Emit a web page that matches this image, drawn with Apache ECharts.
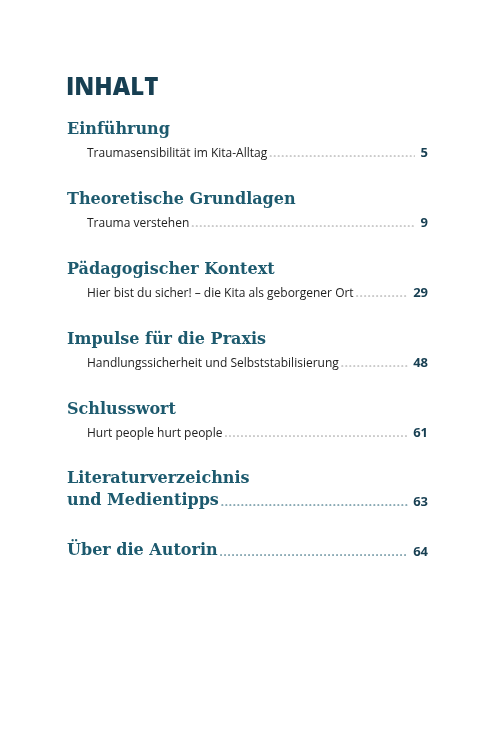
<!DOCTYPE html>
<html><head><meta charset="utf-8">
<script src="https://cdn.jsdelivr.net/npm/echarts@6/dist/echarts.min.js"></script>
<style>html,body{margin:0;background:#fff}#c{width:497px;height:750px}</style>
</head><body><div id="c"></div>
<script>
// Inhaltsverzeichnis
var title = 'INHALT';
var chapters = ['Einführung', 'Theoretische Grundlagen', 'Pädagogischer Kontext', 'Impulse für die Praxis', 'Schlusswort'];
var entries = ['Traumasensibilität im Kita-Alltag', 'Trauma verstehen', 'Hier bist du sicher! – die Kita als geborgener Ort', 'Handlungssicherheit und Selbststabilisierung', 'Hurt people hurt people'];
var pages = [5, 9, 29, 48, 61];
var extraLines = [['Literaturverzeichnis', 'und Medientipps'], ['Über die Autorin']];
var extraPages = [63, 64];

var teal = '#1d5a6e', dark = '#173f52', ink = '#222';
var headFont = 'bold 16px "DejaVu Serif"', subFont = '12px "Open Sans"', numFont = 'bold 13px "Open Sans"';
var ctx = document.createElement('canvas').getContext('2d');
function w(t, f) { ctx.font = f; return ctx.measureText(t).width; }

var g = [];
function txt(x, y, t, f, c, align) {
    g.push({ type: 'text', x: x, y: y, style: { text: t, font: f, fill: c, textAlign: align || 'left', textVerticalAlign: 'bottom' } });
}
function leader(x1, x2, y, c) {
    g.push({ type: 'line', shape: { x1: x1, y1: y - 2, x2: x2, y2: y - 2 }, style: { stroke: c, lineWidth: 1.1, lineDash: [1, 3], lineCap: 'round' } });
}
var right = 428;
txt(66, 100, title, '800 24px "Open Sans"', dark);
chapters.forEach(function (c, i) {
    var y = 138 + i * 70;
    txt(67, y, c, headFont, teal);
    var sy = y + 22;
    txt(87, sy, entries[i], subFont, ink);
    var nw = w(String(pages[i]), numFont);
    txt(right, sy, String(pages[i]), numFont, dark, 'right');
    leader(87 + w(entries[i], subFont) + 3, right - nw - 6, sy - 2, '#999');
});
extraLines.forEach(function (lines, i) {
    var y = i ? 559 : 487;
    lines.forEach(function (l, k) { txt(67, y + k * 22, l, headFont, teal); });
    var ly = y + (lines.length - 1) * 22, last = lines[lines.length - 1];
    var nw = w(String(extraPages[i]), numFont);
    txt(right, ly, String(extraPages[i]), numFont, dark, 'right');
    leader(67 + w(last, headFont) + 3, right - nw - 6, ly - 2, teal);
});

var chart = echarts.init(document.getElementById('c'));
chart.setOption({ graphic: g });
</script></body></html>
